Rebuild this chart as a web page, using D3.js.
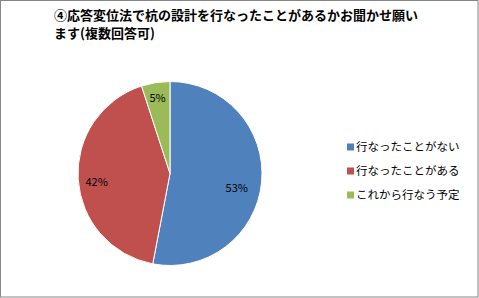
<!DOCTYPE html>
<html>
<head>
<meta charset="utf-8">
<script src="https://cdn.jsdelivr.net/npm/d3@7"></script>
<style>
  body { margin: 0; background: #fff; }
  text { font-family: "Noto Sans CJK JP", "Noto Sans", sans-serif; }
</style>
</head>
<body>
<div id="chart"></div>
<script>
const titleLines = ["④応答変位法で杭の設計を行なったことがあるかお聞かせ願い", "ます(複数回答可)"];
const categories = ["行なったことがない", "行なったことがある", "これから行なう予定"];
const values = [53, 42, 5];
const colors = ["#4F81BD", "#C0504D", "#9BBB59"];

const w = 479, h = 298;
const cx = 170, cy = 173.5, r = 92;
// small nudges so labels sit where the original put them
const labelNudge = [[-2, 8], [-4.5, 4.5], [-1.7, -7.4]];

let svg = d3.select("#chart")
    .append("svg")
    .attr("width", w)
    .attr("height", h);

// outer frame
svg.append("rect")
    .attr("x", 0.5).attr("y", 0.5)
    .attr("width", w - 1.5).attr("height", h - 1.5)
    .attr("fill", "#fff")
    .attr("stroke", "#868686");

// title
svg.append("text")
    .attr("font-size", 13)
    .attr("font-weight", "bold")
    .selectAll("tspan")
    .data(titleLines)
    .enter().append("tspan")
    .attr("x", 54)
    .attr("y", (d, i) => 20 + i * 18)
    .text(d => d);

const data = categories.map((c, i) => ({ name: c, value: values[i], color: colors[i] }));

const pie = d3.pie().value(d => d.value).sort(null);
const arc = d3.arc().innerRadius(0).outerRadius(r);
const labelArc = d3.arc().innerRadius(r * 0.75).outerRadius(r * 0.75);

const g = svg.append("g").attr("transform", `translate(${cx},${cy})`);

g.selectAll("path")
    .data(pie(data))
    .enter().append("path")
    .attr("d", arc)
    .attr("fill", d => d.data.color)
    .attr("stroke", "#fff")
    .attr("stroke-width", 1);

g.selectAll(".lbl")
    .data(pie(data))
    .enter().append("text")
    .attr("class", "lbl")
    .attr("transform", (d, i) => {
        const c = labelArc.centroid(d);
        return `translate(${c[0] + labelNudge[i][0]},${c[1] + labelNudge[i][1]})`;
    })
    .attr("text-anchor", "middle")
    .attr("dy", "0.35em")
    .attr("font-size", 11)
    .text(d => d.data.value + "%");

// legend
const legend = svg.selectAll(".legend")
    .data(data)
    .enter().append("g")
    .attr("class", "legend")
    .attr("transform", (d, i) => `translate(347, ${147 + i * 24})`);

legend.append("rect")
    .attr("x", 0).attr("y", -3.5)
    .attr("width", 7).attr("height", 7)
    .attr("fill", d => d.color);

legend.append("text")
    .attr("x", 9)
    .attr("dy", "0.36em")
    .attr("font-size", 11.5)
    .text(d => d.name);
</script>
</body>
</html>
